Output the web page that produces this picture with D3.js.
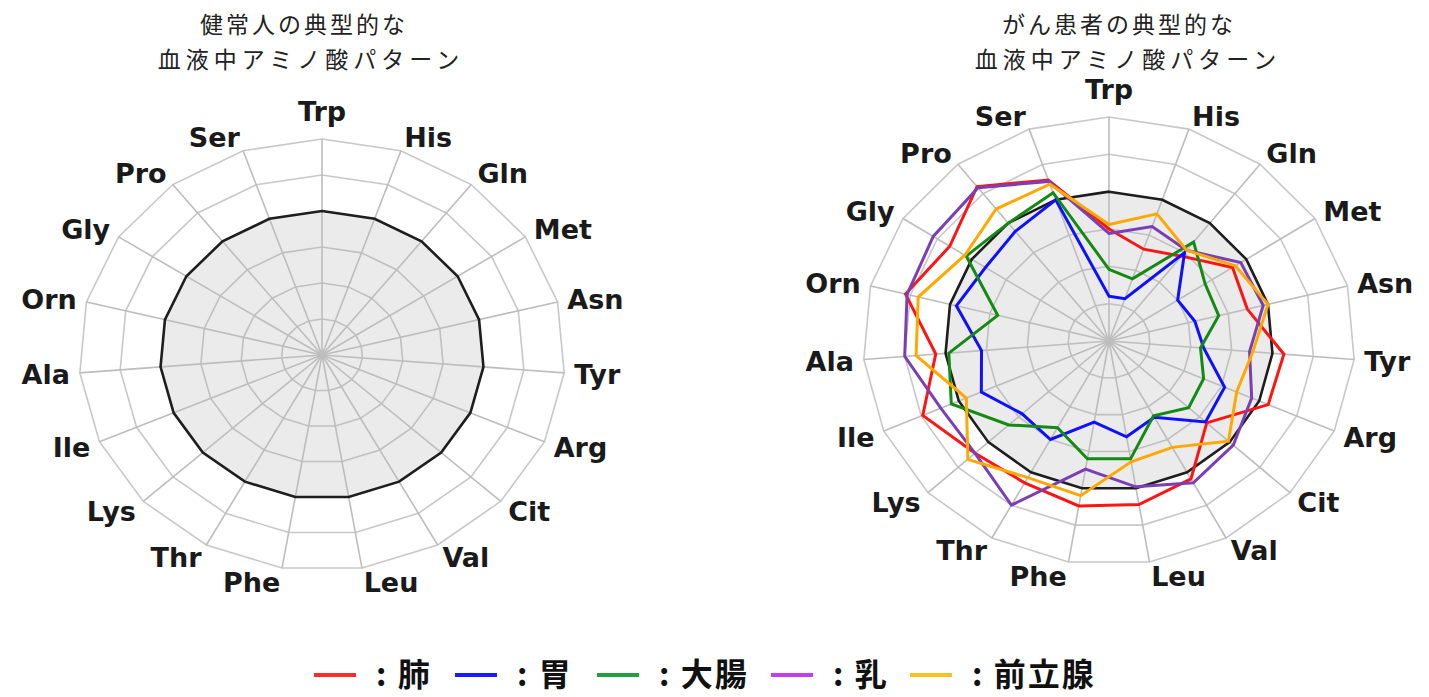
<!DOCTYPE html>
<html>
<head>
<meta charset="utf-8">
<script src="https://cdn.jsdelivr.net/npm/d3@7"></script>
<style>
  body { margin: 0; background: #fff; }
  svg { display: block; }
  .axis-label { font-family: "DejaVu Sans", Verdana, sans-serif; font-weight: bold; font-size: 27px; fill: #1a1a1a; }
  .title { font-family: "Noto Sans CJK JP", sans-serif; font-size: 23px; fill: #222; }
  .legend-text { font-family: "Noto Sans CJK JP", sans-serif; font-weight: bold; font-size: 32px; fill: #111; letter-spacing: 2px; }
</style>
</head>
<body>
<svg id="chart" width="1429" height="697"></svg>
<script>
/* ---- data ---- */
const axes = ['Trp', 'His', 'Gln', 'Met', 'Asn', 'Tyr', 'Arg', 'Cit', 'Val', 'Leu',
              'Phe', 'Thr', 'Lys', 'Ile', 'Ala', 'Orn', 'Gly', 'Pro', 'Ser'];
const ringLevels = [0.25, 0.5, 0.75, 1.0, 1.25, 1.5];

// healthy reference pattern (relative level)
const healthy = [1, 1, 1, 1, 1, 1, 1, 1, 1, 1, 1, 1, 1, 1, 1, 1, 1, 1, 1];

// cancer patients, same axis order
const lung     = [0.75, 0.65, 0.72, 0.90, 0.87, 1.07, 1.06, 0.81, 1.05, 1.11, 1.12, 1.08, 1.11, 1.24, 1.06, 1.28, 1.16, 1.31, 1.14];
const stomach  = [0.30, 0.30, 0.75, 0.50, 0.54, 0.58, 0.77, 0.80, 0.58, 0.65, 0.55, 0.75, 0.72, 0.85, 0.78, 0.96, 0.90, 0.93, 1.00];
const colon    = [0.48, 0.44, 0.84, 0.70, 0.69, 0.56, 0.63, 0.66, 0.57, 0.80, 0.80, 0.66, 0.83, 1.05, 0.98, 0.70, 1.04, 1.00, 1.05];
const breast   = [0.72, 0.81, 0.77, 0.96, 0.97, 0.86, 0.95, 1.03, 1.08, 0.99, 0.87, 1.25, 1.11, 1.12, 1.25, 1.27, 1.28, 1.30, 1.13];
const prostate = [0.78, 0.90, 0.77, 0.92, 1.00, 0.88, 0.85, 0.99, 0.81, 0.82, 1.05, 1.04, 1.17, 0.95, 1.18, 1.20, 1.05, 1.12, 1.11];

const seriesNames   = ['肺', '胃', '大腸', '乳', '前立腺'];
const seriesColors  = ['#ff1414', '#1010ff', '#138a13', '#7b3fb5', '#ffa800'];
const legendColors  = ['#ff2a2a', '#1a1aff', '#20a040', '#c040f0', '#ffc020'];

const titlesLeft  = ['健常人の典型的な', '血液中アミノ酸パターン'];
const titlesRight = ['がん患者の典型的な', '血液中アミノ酸パターン'];

/* ---- drawing ---- */
const svg = d3.select('#chart');
const r = d3.scaleLinear().domain([0, 1.5]).range([0, 1]);
const angle = d3.scaleLinear().domain([0, axes.length]).range([0, 2 * Math.PI]);

function radar(cfg) {
  const { cx, cy, rx, ry } = cfg;
  const g = svg.append('g');
  const pt = (i, v) => [cx + rx * r(v) * Math.sin(angle(i)), cy - ry * r(v) * Math.cos(angle(i))];
  const line = d3.line().x(d => d[0]).y(d => d[1]).curve(d3.curveLinearClosed);

  // rings
  g.selectAll('path.ring')
    .data(ringLevels)
    .enter().append('path')
    .attr('class', 'ring')
    .attr('d', lv => line(axes.map((a, i) => pt(i, lv))))
    .attr('fill', 'none')
    .attr('stroke', '#c8c8c8')
    .attr('stroke-width', 1.6);

  // healthy area sits under the spokes
  g.append('path')
    .attr('d', line(healthy.map((v, i) => pt(i, v))))
    .attr('fill', '#ebebeb')
    .attr('stroke', 'none');

  g.selectAll('path.ring2')
    .data(ringLevels.slice(0, 3))
    .enter().append('path')
    .attr('d', lv => line(axes.map((a, i) => pt(i, lv))))
    .attr('fill', 'none')
    .attr('stroke', '#c0c0c0')
    .attr('stroke-width', 1.6);

  // spokes
  g.selectAll('line.spoke')
    .data(axes)
    .enter().append('line')
    .attr('x1', cx).attr('y1', cy)
    .attr('x2', (a, i) => pt(i, 1.5)[0])
    .attr('y2', (a, i) => pt(i, 1.5)[1])
    .attr('stroke', '#bdbdbd')
    .attr('stroke-width', 1.6);

  g.append('path')
    .attr('d', line(healthy.map((v, i) => pt(i, v))))
    .attr('fill', 'none')
    .attr('stroke', '#1e1e1e')
    .attr('stroke-width', 2.6);

  // axis labels
  g.selectAll('text.axis-label')
    .data(axes)
    .enter().append('text')
    .attr('class', 'axis-label')
    .attr('text-anchor', (a, i) => {
      const s = Math.sin(angle(i));
      return Math.abs(s) < 0.05 ? 'middle' : (s > 0 ? 'start' : 'end');
    })
    .attr('x', (a, i) => pt(i, 1.5)[0] + Math.sin(angle(i)) * 10)
    .attr('y', (a, i) => {
      const [, ey] = pt(i, 1.5);
      if (i === 0) return ey - 18;
      return ey - Math.cos(angle(i)) * 14 + 10;
    })
    .text(a => a);

  // title
  g.selectAll('text.title')
    .data(cfg.titles)
    .enter().append('text')
    .attr('class', 'title')
    .attr('text-anchor', 'middle')
    .attr('letter-spacing', (t, k) => k === 0 ? 3 : 5)
    .attr('x', (t, k) => cfg.titleX[k])
    .attr('y', (t, k) => 33 + k * 35)
    .text(t => t);

  return { g, pt, line };
}

// left: healthy
radar({ cx: 322, cy: 355, rx: 243, ry: 216, titles: titlesLeft, titleX: [304, 311] });

// right: cancer patterns
const right = radar({ cx: 1109, cy: 341, rx: 246, ry: 224, titles: titlesRight, titleX: [1119, 1128] });
const cancer = [lung, stomach, colon, breast, prostate];
right.g.selectAll('path.series')
  .data(cancer)
  .enter().append('path')
  .attr('class', 'series')
  .attr('d', vals => right.line(vals.map((v, i) => right.pt(i, v))))
  .attr('fill', 'none')
  .attr('stroke', (vals, k) => seriesColors[k])
  .attr('stroke-width', 3)
  .attr('stroke-linejoin', 'miter');

// legend
const legendX = [314, 455, 597, 771, 910];
const legend = svg.append('g');
const items = legend.selectAll('g.item')
  .data(seriesNames)
  .enter().append('g')
  .attr('transform', (n, k) => `translate(${legendX[k]},0)`);
items.append('line')
  .attr('x1', 0).attr('x2', 42)
  .attr('y1', 675).attr('y2', 675)
  .attr('stroke', (n, k) => legendColors[k])
  .attr('stroke-width', 4);
items.append('text')
  .attr('class', 'legend-text')
  .attr('x', 62).attr('y', 686)
  .text(n => ': ' + n);
</script>
</body>
</html>
